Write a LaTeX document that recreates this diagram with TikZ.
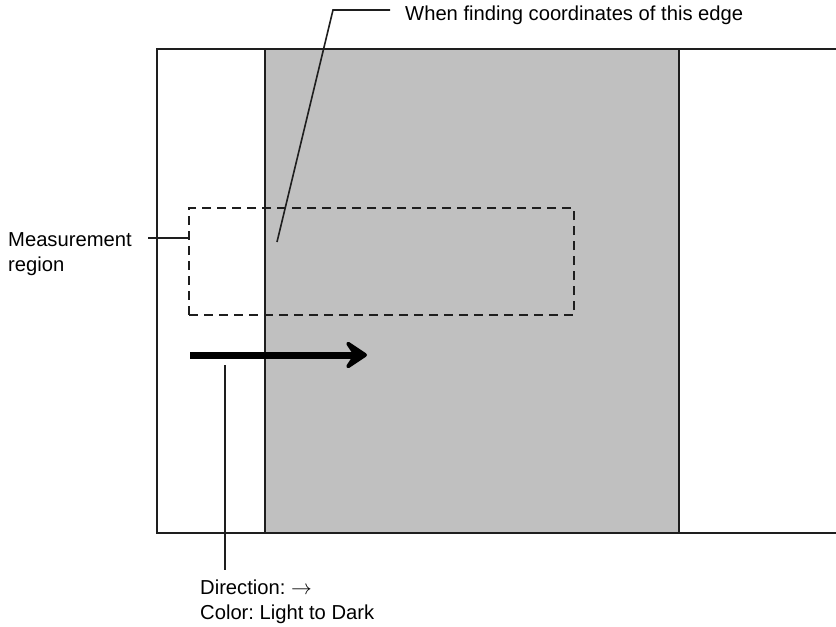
\documentclass[tikz,border=0pt]{standalone}
\usepackage{fontspec}
\setmainfont{Liberation Sans}
\usetikzlibrary{arrows.meta}
\definecolor{fillg}{RGB}{192,192,192}
\definecolor{edgec}{RGB}{30,30,30}
\tikzset{
  frame/.style={line width=2.4pt, draw=edgec},
  dashbox/.style={draw=edgec, line width=2.2pt, dash pattern=on 9pt off 6pt, minimum width=385pt, minimum height=107pt, inner sep=0pt},
  leader/.style={line width=1.6pt, draw=edgec},
  lbl/.style={inner sep=0pt, font=\fontsize{20.2}{25}\selectfont\frenchspacing, align=left},
  bigarrow/.style={line width=7pt, -{Stealth[length=27pt,width=36pt,inset=12pt,round]}}
}
\begin{document}
\begin{tikzpicture}[x=1pt,y=-1pt]
\useasboundingbox (0,0) rectangle (836,627);
% gray band
\fill[fillg] (265,49) rectangle (679,533);
% frame
\draw[frame] (836,49) -- (157,49) -- (157,533) -- (836,533);
\draw[frame] (265,49) -- (265,533);
\draw[frame] (679,49) -- (679,533);
% measurement region
\node[dashbox] (region) at (381.5,261.5) {};
% arrow
\coordinate (astart) at (190,355);
\coordinate (aend) at (367,355);
\draw[bigarrow] (astart) -- (aend);
% labels
\node[lbl, anchor=base west] (when) at (405,20) {When finding coordinates of this edge};
\node[lbl, anchor=north west] (meas) at (8,232) {Measurement\\region};
\node[lbl, anchor=north west] (dir) at (200,580) {Direction: $\rightarrow$\\Color: Light to Dark};
% leaders
\coordinate (edgept) at (277,242);
\coordinate (bend) at (333,10);
\draw[leader] (edgept) -- (bend) -- ([xshift=-15pt]when.west |- bend);
\coordinate (mleft) at (148,238);
\draw[leader] (mleft) -- (mleft -| region.west);
\coordinate (dtop) at (225,365);
\draw[leader] (dtop) -- ([yshift=10pt]dtop |- dir.north);
\end{tikzpicture}
\end{document}
